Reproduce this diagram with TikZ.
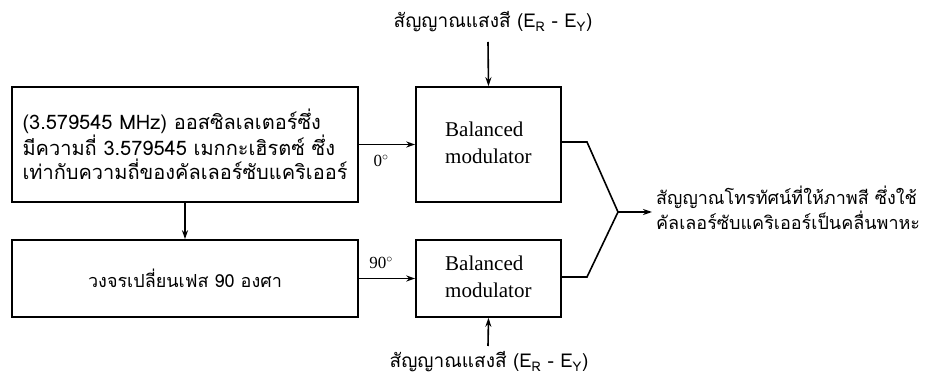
\documentclass[tikz,border=0pt]{standalone}
\usepackage{fontspec}
\setmainfont{Liberation Serif}
\newfontfamily\thai[Script=Thai]{Loma}
\usetikzlibrary{arrows.meta}
\begin{document}
\begin{tikzpicture}[x=1pt,y=-1pt,
  blk/.style={draw, line width=1.6pt, inner sep=0pt, anchor=center},
  con/.style={line width=1.6pt},
  arr/.style={line width=1.6pt, -{Stealth[length=9pt,width=6pt]}},
  th/.style={font=\thai\fontsize{20}{24}\selectfont},
  lab/.style={font=\thai\fontsize{19}{24}\selectfont},
  bmtext/.style={align=left, font=\fontsize{21}{27}\selectfont, anchor=west, inner sep=0pt}]
\useasboundingbox[fill=white] (0,0) rectangle (932,387);
% boxes
\node[blk, minimum width=346pt, minimum height=115pt, align=left, th] (osc) at (185,144.5)
  {(3.579545 MHz) ออสซิลเลเตอร์ซึ่ง\\มีความถี่ 3.579545 เมกกะเฮิรตซ์ ซึ่ง\\เท่ากับความถี่ของคัลเลอร์ซับแคริเออร์};
\node[blk, minimum width=346pt, minimum height=77pt, font=\thai\fontsize{18}{24}\selectfont] (ph) at (185,278.5)
  {วงจรเปลี่ยนเฟส 90 องศา};
\node[blk, minimum width=145pt, minimum height=115pt] (bm1) at (488.5,144.5) {};
\node[bmtext] (t1) at (445,143) {Balanced\\modulator};
\node[blk, minimum width=145pt, minimum height=77pt] (bm2) at (488.5,278.5) {};
\node[bmtext] (t2) at (445,277) {Balanced\\modulator};
% labels
\node[lab] (top) at (493,22) {สัญญาณแสงสี (E\textsubscript{R} - E\textsubscript{Y})};
\node[lab] (bot) at (489,362) {สัญญาณแสงสี (E\textsubscript{R} - E\textsubscript{Y})};
\node[anchor=north west, align=left, inner sep=0pt, font=\thai\fontsize{18}{25}\selectfont] (out) at (656,186)
  {สัญญาณโทรทัศน์ที่ให้ภาพสี ซึ่งใช้\\คัลเลอร์ซับแคริเออร์เป็นคลื่นพาหะ};
\node[font=\fontsize{17}{18}\selectfont] (l0) at (381,161) {0$^{\circ}$};
\node[font=\fontsize{17}{18}\selectfont] (l90) at (381,263) {90$^{\circ}$};
% connectors
\coordinate (j) at (618,212);
\coordinate (o1) at (587,142);
\coordinate (o2) at (587,277);
\coordinate (oe) at (652,212);
\coordinate (tin) at (488,42);
\coordinate (bin) at (488,346);
\draw[arr] (osc.south) -- (ph.north);
\draw[arr] (osc.east) -- (bm1.west);
\draw[arr] (ph.east) -- (bm2.west);
\draw[arr] (tin) -- (bm1.north);
\draw[arr] (bin) -- (bm2.south);
\draw[con] (bm1.east |- o1) -- (o1) -- (j);
\draw[con] (bm2.east |- o2) -- (o2) -- (j);
\draw[arr] (j) -- (oe);
\end{tikzpicture}
\end{document}
